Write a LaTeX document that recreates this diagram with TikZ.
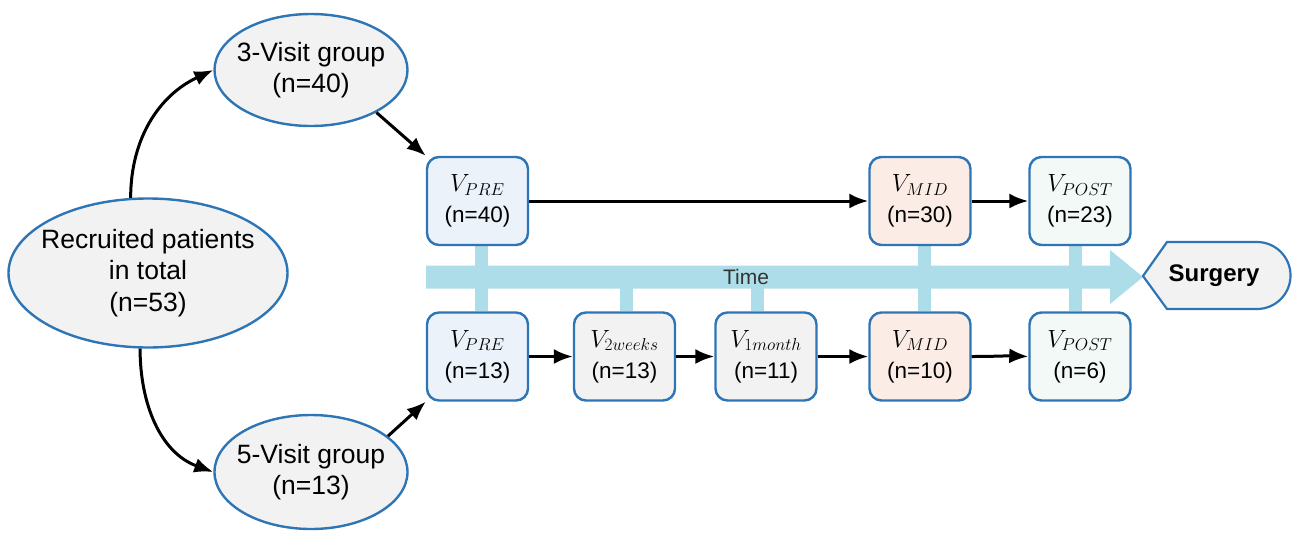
\documentclass[tikz,border=0pt]{standalone}
\usepackage{fontspec}
\setmainfont{Liberation Sans}
\usetikzlibrary{shapes.geometric,arrows.meta,backgrounds}
\definecolor{bdr}{HTML}{2E75B6}
\definecolor{ellfill}{HTML}{F2F2F2}
\definecolor{prefill}{HTML}{EBF2FA}
\definecolor{grayfill}{HTML}{F2F2F2}
\definecolor{midfill}{HTML}{FBEDE6}
\definecolor{postfill}{HTML}{F2F9F6}
\definecolor{timec}{HTML}{ADDDE8}
\tikzset{
  ell/.style={ellipse, draw=bdr, line width=2.4pt, fill=ellfill, inner xsep=-20pt, inner ysep=0pt, align=center,
    font=\fontsize{26.5}{31.5}\selectfont},
  visit/.style={rectangle, rounded corners=12pt, draw=bdr, line width=2.4pt, minimum width=101pt,
    minimum height=88pt, inner sep=0pt, align=center, font=\fontsize{22.5}{31}\selectfont},
  arr/.style={-{Latex[length=19pt,width=15pt]}, line width=3pt, black},
  stub/.style={line width=13pt, timec},
}
\newcommand{\vlab}[2]{{\fontsize{23}{23}\selectfont$V_{#1}$}\\(n=#2)}
\begin{document}
\begin{tikzpicture}[x=1pt,y=-1pt]
\useasboundingbox (0,0) rectangle (1292,536);
% time bar
\fill[timec] (426,265.5) -- (1110,265.5) -- (1110,250) -- (1143,277) -- (1110,304) -- (1110,288.5) -- (426,288.5) -- cycle;
\node[font=\fontsize{21}{21}\selectfont, text=black!80] (time) at (746,277) {Time};
% ellipses
\node[ell, minimum width=279pt, minimum height=149pt] (rec) at (148,273) {Recruited patients\\in total\\(n=53)};
\node[ell, minimum width=193pt, minimum height=112pt] (g3) at (311,70) {3-Visit group\\(n=40)};
\node[ell, minimum width=193pt, minimum height=114pt] (g5) at (311,472) {5-Visit group\\(n=13)};
% visit boxes
\node[visit, fill=prefill] (pre1) at (477.5,201) {\vlab{PRE}{40}};
\node[visit, fill=midfill] (mid1) at (920,201) {\vlab{MID}{30}};
\node[visit, fill=postfill] (post1) at (1080,201) {\vlab{POST}{23}};
\node[visit, fill=prefill] (pre2) at (477.5,356.5) {\vlab{PRE}{13}};
\node[visit, fill=grayfill] (w2) at (624.5,356.5) {\vlab{2weeks}{13}};
\node[visit, fill=grayfill] (m1) at (766,356.5) {\vlab{1month}{11}};
\node[visit, fill=midfill] (mid2) at (920,356.5) {\vlab{MID}{10}};
\node[visit, fill=postfill] (post2) at (1080,356.5) {\vlab{POST}{6}};
% stubs
\begin{pgfonlayer}{background}
\draw[stub] ([xshift=4pt]pre1.south) -- ([xshift=4pt]pre2.north);
\draw[stub] ([xshift=2pt]w2.north) -- ++(0,-30);
\draw[stub] ([xshift=-9pt]m1.north) -- ++(0,-30);
\draw[stub] ([xshift=4.5pt]mid1.south) -- ([xshift=4.5pt]mid2.north);
\draw[stub] ([xshift=-4.5pt]post1.south) -- ([xshift=-4.5pt]post2.north);
\end{pgfonlayer}
% surgery
\draw[bdr, line width=2.2pt, fill=ellfill] (1143,276) -- (1167,242) -- (1257,242)
  arc[start angle=-90, end angle=90, radius=33.5] -- (1167,309) -- cycle;
\node[font=\bfseries\fontsize{24}{24}\selectfont] (surg) at (1214,276) {Surgery};
% arrows
\draw[arr] (rec.103) to[out=90, in=205] (g3.west);
\draw[arr] (rec.264) to[out=-90, in=160] (g5.west);
\draw[arr] (g3.-33) -- (pre1.north west);
\draw[arr] (g5.25) -- (pre2.south west);
\draw[arr] (pre1) -- (mid1);
\draw[arr] (mid1) -- (post1);
\draw[arr] (pre2) -- (w2);
\draw[arr] (w2) -- (m1);
\draw[arr] (m1) -- (mid2);
\draw[arr] (mid2.east) to[out=0, in=178] (post2.west);
\end{tikzpicture}
\end{document}
